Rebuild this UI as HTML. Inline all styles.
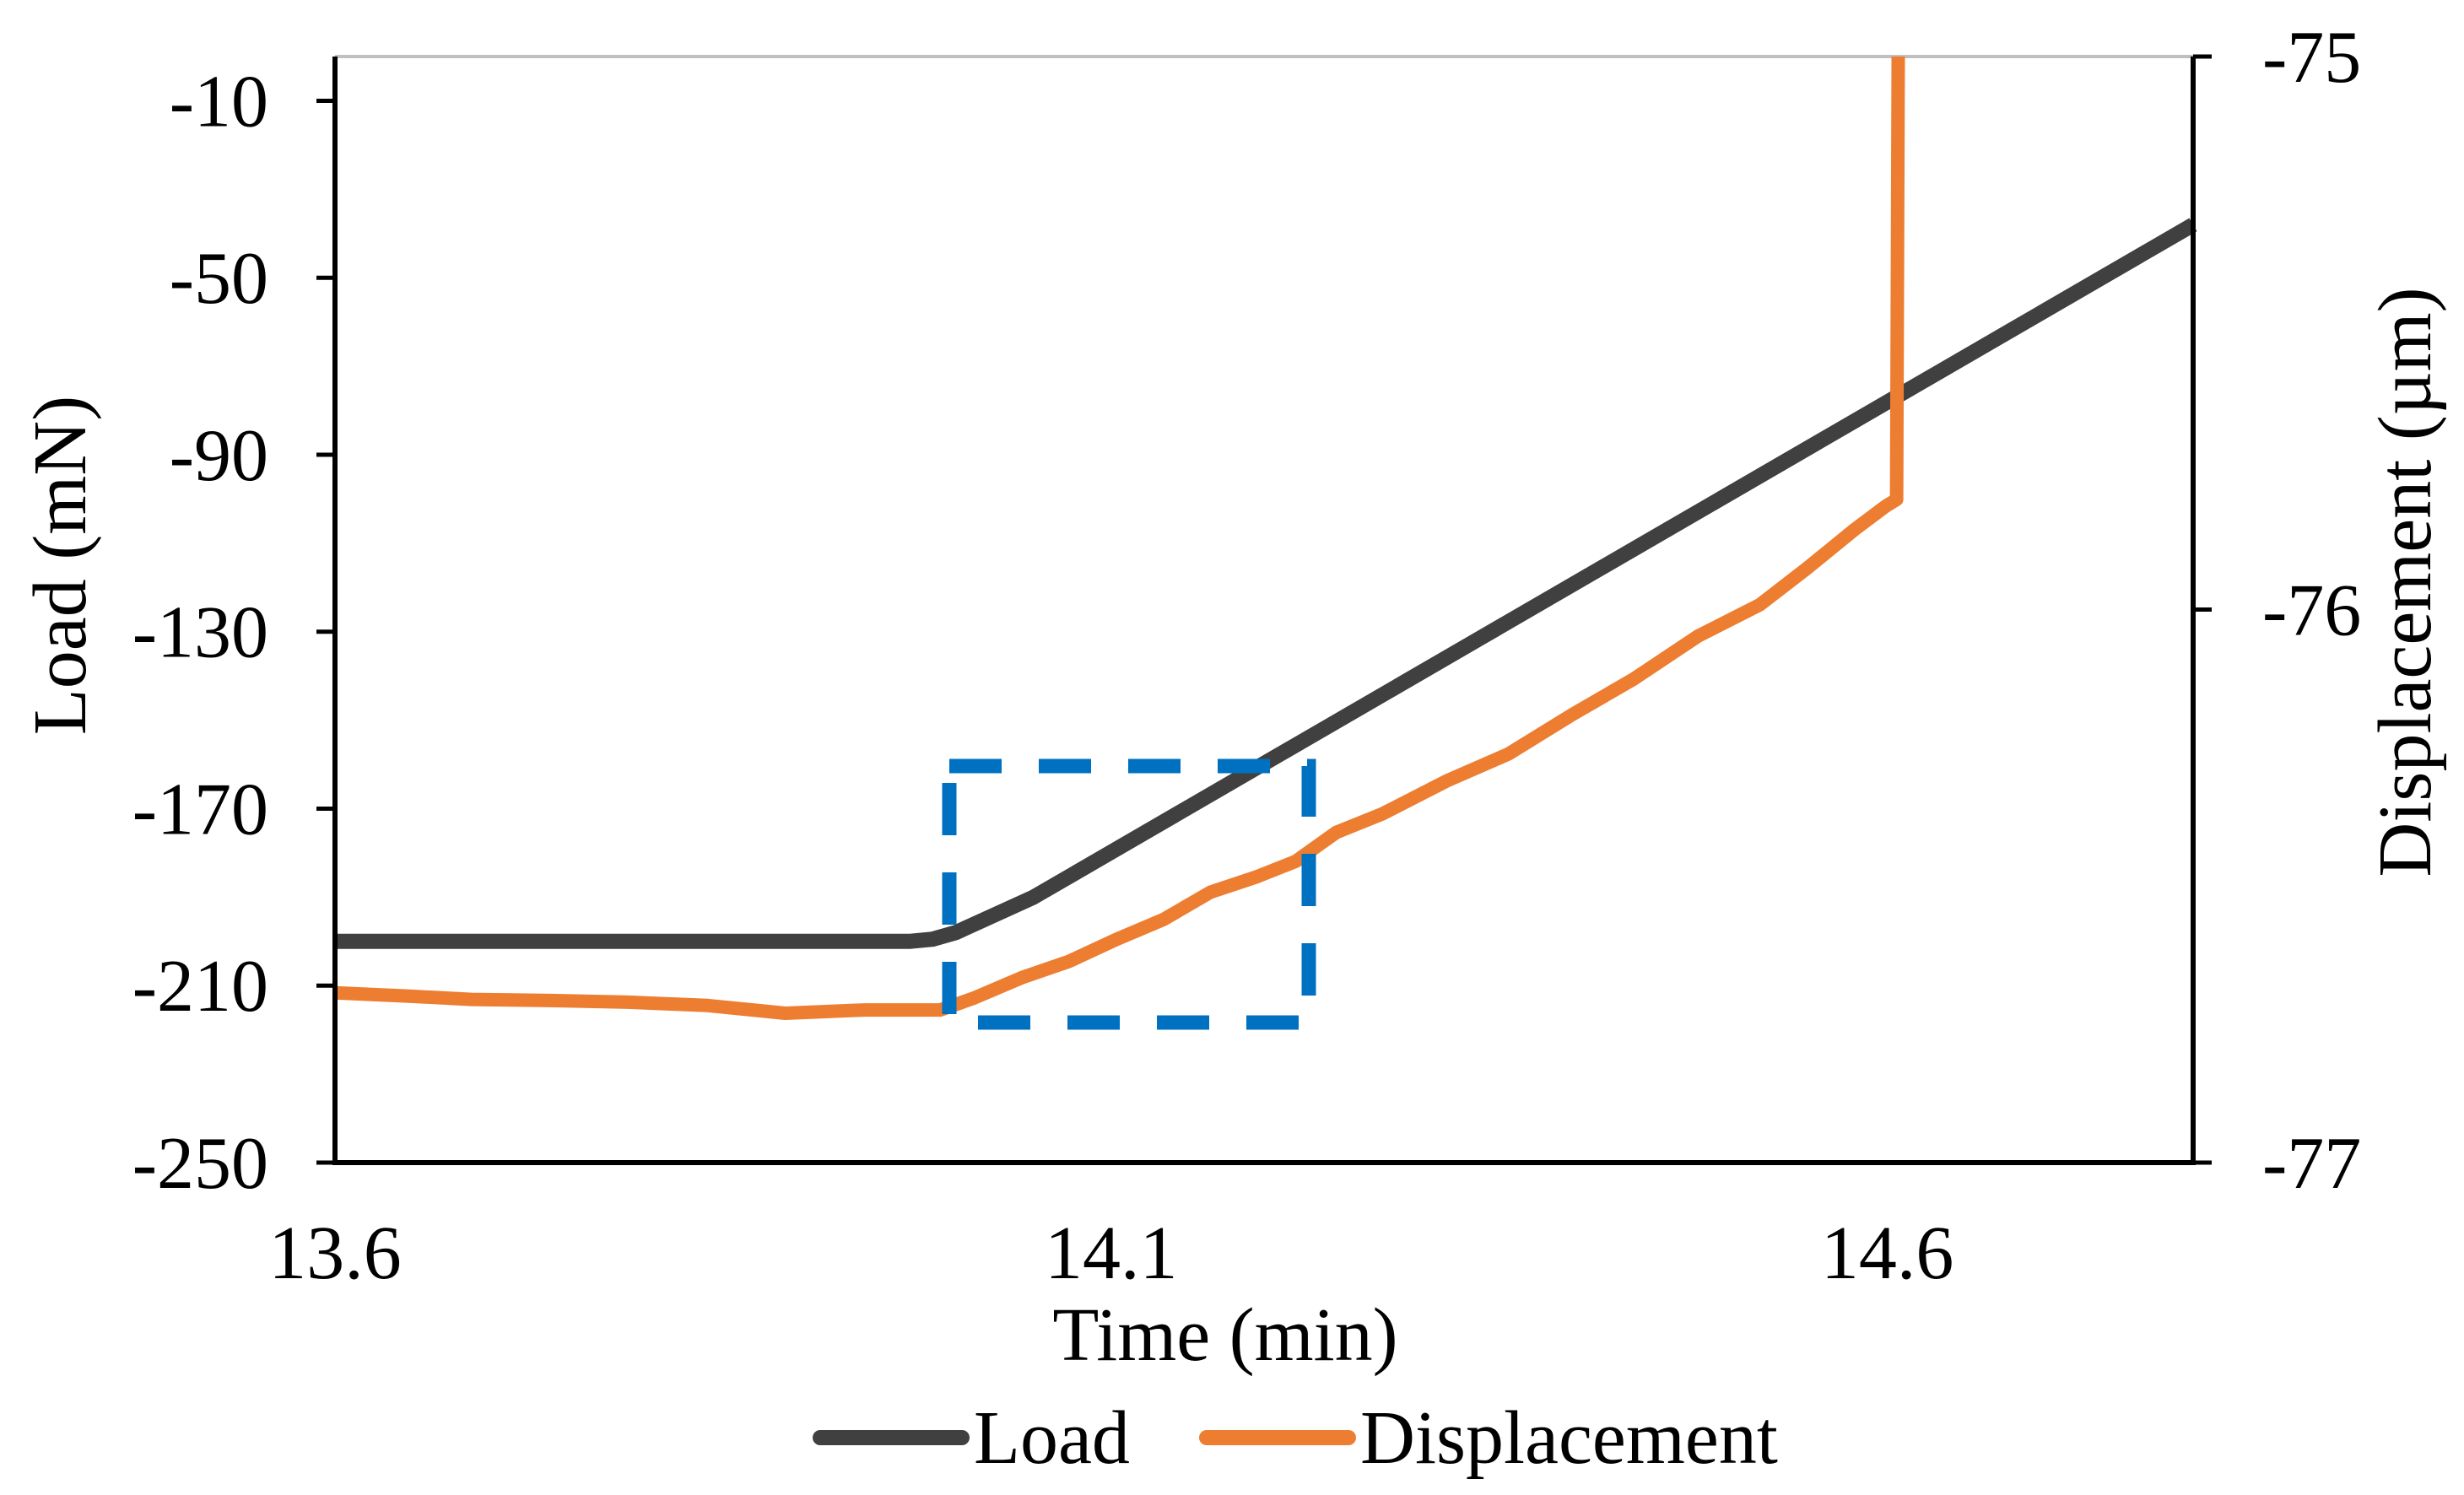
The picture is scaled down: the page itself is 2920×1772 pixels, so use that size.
<!DOCTYPE html>
<html><head><meta charset="utf-8"><style>
html,body{margin:0;padding:0;background:#fff}
svg{display:block}
text{font-family:"Liberation Serif",serif;fill:#000}
</style></head><body>
<svg id="chart" width="2920" height="1772" viewBox="0 0 2920 1772" xmlns="http://www.w3.org/2000/svg"></svg>
<script>
const xTicks=[13.6,14.1,14.6];
const xTickLabels=["13.6","14.1","14.6"];
const loadTicks=[-10,-50,-90,-130,-170,-210,-250];
const dispTicks=[-75,-76,-77];
const loadTime=[13.6,13.97,13.985,14.0,14.05,14.797];
const loadValues=[-200,-200,-199.5,-198,-190,-38];
const dispTime=[13.600,13.648,13.688,13.739,13.789,13.840,13.890,13.941,13.990,14.012,14.043,14.073,14.103,14.134,14.164,14.194,14.219,14.245,14.275,14.316,14.356,14.397,14.437,14.478,14.518,14.548,14.579,14.599,14.606,14.607];
const dispValues=[-76.693,-76.699,-76.705,-76.707,-76.710,-76.716,-76.730,-76.724,-76.724,-76.702,-76.665,-76.636,-76.597,-76.560,-76.511,-76.483,-76.455,-76.403,-76.369,-76.310,-76.261,-76.190,-76.125,-76.048,-75.991,-75.926,-75.855,-75.813,-75.801,-75.0];

const L=397,R=2599,T=67,B=1378;
const X=t=>L+(t-13.6)/(14.797-13.6)*(R-L);
const YL=v=>T+(0-v)/250*(B-T);
const YR=v=>T+(-75-v)/2*(B-T);
const svg=document.getElementById('chart');
const NS='http://www.w3.org/2000/svg';
function mk(tag,attrs,parent){const e=document.createElementNS(NS,tag);for(const k in attrs)e.setAttribute(k,attrs[k]);(parent||svg).appendChild(e);return e;}

let e=mk('line',{x1:L,y1:T,x2:R,y2:T,stroke:'#bfbfbf','stroke-width':4});



let d=loadTime.map((t,i)=>(i?'L':'M')+X(t).toFixed(1)+' '+YL(loadValues[i]).toFixed(1)).join(' ');
e=mk('path',{d:d,fill:'none',stroke:'#404040','stroke-width':18,'stroke-linejoin':'round'});


d=dispTime.map((t,i)=>(i?'L':'M')+X(t).toFixed(1)+' '+YR(dispValues[i]).toFixed(1)).join(' ');
e=mk('path',{d:d,fill:'none',stroke:'#ED7D31','stroke-width':16,'stroke-linejoin':'round'});



e=mk('rect',{x:1125,y:908,width:426,height:304,fill:'none',stroke:'#0070C0','stroke-width':17,'stroke-dasharray':'62 44'});



e=mk('path',{d:`M${L} ${T} L${L} ${B} L${R} ${B} L${R} ${T}`,fill:'none',stroke:'#000','stroke-width':6});



loadTicks.forEach(v=>{
  const y=YL(v);
  let t=mk('line',{x1:L-22,y1:y,x2:L,y2:y,stroke:'#000','stroke-width':5});
  
  
  let tx=mk('text',{x:318,y:y+30,'text-anchor':'end','font-size':88});
  tx.textContent=v;
  
  
});
dispTicks.forEach(v=>{
  const y=YR(v);
  let t=mk('line',{x1:R,y1:y,x2:R+22,y2:y,stroke:'#000','stroke-width':5});
  
  
  let tx=mk('text',{x:2681,y:y+30,'font-size':88});
  tx.textContent=v;
  
  
});
xTicks.forEach((v,i)=>{
  const x=X(v);
  let tx=mk('text',{x:x,y:1515,'text-anchor':'middle','font-size':90});
  tx.textContent=xTickLabels[i];
  
  
});

e=mk('text',{x:1452,y:1612,'text-anchor':'middle','font-size':90});
e.textContent='Time (min)';


e=mk('text',{x:0,y:0,'text-anchor':'middle','font-size':90,transform:'translate(101,670) rotate(-90)'});
e.textContent='Load (mN)';


e=mk('text',{x:0,y:0,'text-anchor':'middle','font-size':90,transform:'translate(2880,690) rotate(-90)'});
e.textContent='Displacement (µm)';



let g=mk('g',{});


e=mk('line',{x1:972,y1:1704,x2:1140,y2:1704,stroke:'#404040','stroke-width':18,'stroke-linecap':'round'},g);


e=mk('text',{x:1154,y:1734,'font-size':90},g);
e.textContent='Load';


e=mk('line',{x1:1430,y1:1704,x2:1598,y2:1704,stroke:'#ED7D31','stroke-width':18,'stroke-linecap':'round'},g);


e=mk('text',{x:1612,y:1734,'font-size':90},g);
e.textContent='Displacement';


</script>
</body></html>
